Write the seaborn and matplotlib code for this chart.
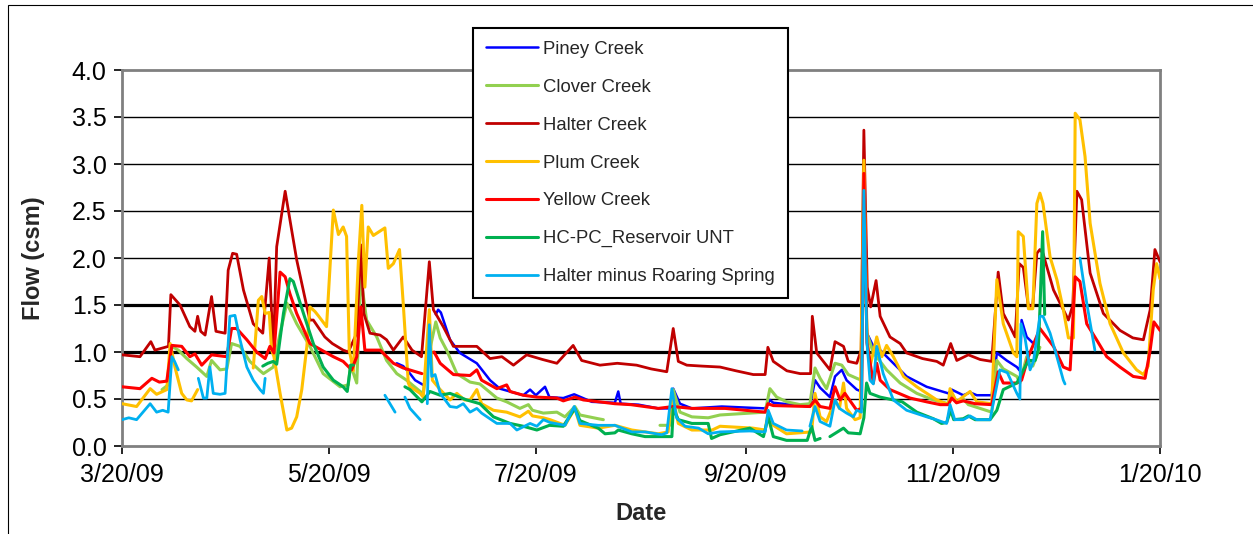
import numpy as np
import pandas as pd
import matplotlib
matplotlib.use("Agg")
import matplotlib.pyplot as plt
import seaborn as sns
from matplotlib.patches import Rectangle

# ---------------- data (days since 3/20/09, flow in csm); None = gap ----------------
start_date = "2009-03-20"
series_names = ["Piney Creek", "Clover Creek", "Halter Creek", "Plum Creek",
                "Yellow Creek", "HC-PC_Reservoir UNT", "Halter minus Roaring Spring"]
series_colors = ["#0000FF", "#92D050", "#C00000", "#FFC000", "#FF0000", "#00B050", "#00B0F0"]
x_tick_labels = ["3/20/09", "5/20/09", "7/20/09", "9/20/09", "11/20/09", "1/20/10"]
y_ticks = [0.0, 0.5, 1.0, 1.5, 2.0, 2.5, 3.0, 3.5, 4.0]
thick_grid = [1.0, 1.5]

piney = [(81.0,0.88),(82.9,0.85),(84.9,0.77),(86.4,0.70),(88.8,0.65), None,
 (92.5,1.40),(93.2,1.45),(94.0,1.42),(96.7,1.13),(99.6,0.99),(104.6,0.88),(108.5,0.70),(111.4,0.61),
 (118.3,0.54),(120.3,0.60),(122.0,0.54),(124.7,0.63),(126.0,0.52),(130.1,0.51),(133.3,0.55),(138.5,0.47),
 (145.3,0.46),(146.3,0.58),(147.0,0.45),(152.2,0.44),(158.1,0.40),(162.1,0.40),(162.5,0.61),(164.5,0.45),
 (168.0,0.40),(176.8,0.42),(189.6,0.40),(191.0,0.49),(192.0,0.46),(202.8,0.42),(204.3,0.70),(205.8,0.62),
 (208.7,0.52),(210.2,0.74),(212.2,0.81),(213.6,0.70),(216.6,0.60),(218.0,0.58),(218.7,2.50),(219.6,1.20),
 (221.5,1.06),(223.5,1.02),(227.4,0.88),(231.3,0.74),(237.2,0.63),(243.6,0.56),(244.6,0.60),(248.0,0.54),
 (250.0,0.57),(252.0,0.54),(256.4,0.54),(257.9,0.99),(260.8,0.91),(263.8,0.84),(264.7,0.80),(265.2,1.34),
 (266.7,1.16),(268.7,1.09)]

clover = [(11.8,0.60),(13.6,0.65),(14.7,1.06),(16.6,1.02),(19.1,0.93),(22.0,0.84),(25.0,0.74),(26.4,0.91),
 (28.9,0.81),(30.9,0.82),(32.3,1.09),(34.8,1.06),(37.7,0.90),(40.7,0.80),(41.7,0.77),(44.6,0.84),(46.6,1.20),
 (48.6,1.52),(51.5,1.30),(55.4,1.06),(59.3,0.77),(64.3,0.63),(66.7,0.65),(67.4,0.86),(69.2,0.67),(70.4,1.80),
 (72.1,1.34),(75.1,1.16),(78.0,0.91),(81.0,0.77),(83.9,0.70),(87.9,0.58),(88.8,0.56),(90.6,1.00),(92.5,1.32),
 (93.8,1.15),(95.7,1.02),(98.7,0.77),(102.6,0.68),(105.5,0.66),(110.5,0.51),(113.4,0.47),(117.3,0.40),
 (119.8,0.44),(121.0,0.38),(124.2,0.35),(128.2,0.36),(130.6,0.31),(133.5,0.42),(135.0,0.33),(140.4,0.29),
 (141.9,0.28), None,
 (158.6,0.22),(161.5,0.22),(162.5,0.60),(164.5,0.36),(168.0,0.31),(172.8,0.30),(176.3,0.33),(189.6,0.36),
 (191.0,0.61),(193.0,0.52),(196.0,0.47),(199.9,0.44),(202.8,0.45),(204.3,0.83),(205.8,0.72),(207.7,0.61),
 (210.2,0.88),(212.2,0.86),(214.1,0.76),(216.6,0.72),(218.0,0.70),(218.7,2.60),(219.6,1.20),(221.5,0.99),
 (223.5,0.90),(225.4,0.81),(229.4,0.67),(234.3,0.56),(239.2,0.49),(243.6,0.45),(244.6,0.56),(246.1,0.46),
 (248.0,0.50),(249.5,0.44),(256.4,0.36),(257.9,0.91),(259.8,0.82),(263.8,0.74),(264.7,0.67),(266.7,0.95),
 (268.5,0.85),(270.6,1.05)]

halter = [(0.0,0.97),(5.3,0.95),(8.5,1.11),(9.7,1.02),(13.7,1.06),(14.4,1.61),(17.1,1.50),(20.0,1.27),
 (21.5,1.22),(22.3,1.38),(23.2,1.22),(24.5,1.18),(26.4,1.59),(27.7,1.22),(30.4,1.20),(31.3,1.87),(32.6,2.05),
 (33.8,2.04),(35.8,1.66),(38.7,1.30),(41.5,1.20),(43.4,2.00),(44.6,0.99),(45.6,2.12),(48.1,2.71),(50.0,2.30),
 (51.5,1.98),(54.5,1.48),(55.4,1.34),(56.4,1.34),(59.8,1.16),(62.0,1.09),(65.2,1.02),(66.7,1.00),(69.2,1.20),
 (70.4,2.14),(71.3,1.41),(73.1,1.20),(76.1,1.18),(78.0,1.13),(80.0,1.02),(82.9,1.16),(85.5,1.02),(88.3,0.95),
 (90.6,1.96),(91.8,1.45),(94.7,1.27),(97.7,1.06),(101.0,1.06),(104.6,1.06),(108.5,0.93),(112.0,0.95),
 (115.4,0.86),(119.3,0.97),(124.0,0.92),(128.2,0.88),(133.0,1.07),(135.5,0.91),(140.9,0.86),(146.0,0.88),
 (151.7,0.86),(156.0,0.82),(160.6,0.79),(162.5,1.25),(164.0,0.90),(166.5,0.86),(171.0,0.85),(176.3,0.84),
 (181.0,0.80),(186.1,0.76),(189.6,0.76),(190.4,1.05),(192.0,0.90),(196.0,0.80),(199.9,0.77),(203.0,0.77),
 (203.5,1.38),(204.8,0.99),(208.7,0.81),(210.2,1.11),(212.7,1.06),(214.1,0.90),(216.6,0.88),(217.9,1.02),
 (218.7,3.36),(219.7,1.69),(220.7,1.48),(222.3,1.76),(223.5,1.38),(226.4,1.16),(229.4,1.09),(231.3,0.99),
 (236.0,0.93),(240.2,0.90),(242.1,0.86),(244.3,1.09),(246.1,0.91),(249.5,0.97),(253.0,0.92),(256.4,0.90),
 (258.3,1.85),(259.8,1.41),(261.8,1.27),(263.3,1.16),(264.5,1.94),(265.7,1.90),(267.2,1.48),(268.5,1.50),
 (269.7,2.05),(270.6,2.09),(271.5,2.05),(274.6,1.66),(277.5,1.45),(279.0,1.34),(280.3,1.50),(281.5,2.71),
 (282.9,2.62),(285.4,1.84),(289.3,1.41),(294.2,1.23),(298.0,1.15),(301.1,1.13),(303.1,1.45),(304.5,2.09),
 (306.0,1.96)]

plum = [(0.0,0.45),(4.3,0.42),(8.3,0.61),(10.2,0.55),(13.2,0.60),(14.2,1.09),(15.6,0.84),(17.6,0.56),
 (19.1,0.49),(20.5,0.48),(22.3,0.60), None,
 (38.7,0.83),(40.2,1.55),(41.2,1.59),(42.2,1.41),(43.4,1.42),(44.1,1.02),(44.8,0.95),(46.6,0.56),(48.6,0.17),
 (50.0,0.19),(51.5,0.31),(53.0,0.60),(54.5,1.06),(55.4,1.48),(56.9,1.43),(58.0,1.38),(60.3,1.27),(62.3,2.51),
 (63.8,2.25),(65.2,2.33),(66.2,2.23),(67.0,1.02),(68.2,0.80),(69.7,1.98),(70.7,2.56),(71.6,1.69),(72.6,2.33),
 (74.1,2.24),(77.5,2.32),(78.5,1.89),(80.0,1.94),(81.8,2.09),(82.9,1.52),(84.4,0.67),(84.9,0.63),(87.9,0.56),
 (88.8,0.52),(90.6,1.45),(91.5,0.70),(93.8,0.60),(96.7,0.49),(98.7,0.56),(101.0,0.49),(102.6,0.49),
 (104.6,0.60),(106.0,0.45),(109.5,0.38),(113.4,0.36),(117.3,0.31),(119.8,0.37),(121.0,0.32),(124.2,0.30),
 (126.2,0.28),(130.6,0.22),(133.5,0.40),(135.0,0.22),(140.4,0.19),(145.3,0.22),(150.3,0.17),(158.1,0.13),
 (161.0,0.15),(162.1,0.56),(164.0,0.24),(168.0,0.17),(174.0,0.17),(176.3,0.21),(186.0,0.19),(189.6,0.17),
 (190.5,0.36),(192.0,0.22),(195.9,0.13),(203.3,0.15),(204.3,0.56),(205.8,0.31),(207.7,0.26),(210.2,0.49),
 (211.5,0.40),(212.7,0.67),(213.6,0.40),(216.1,0.28),(217.6,0.30),(218.7,3.04),(219.6,1.20),(220.5,0.84),
 (222.5,1.16),(224.0,0.95),(225.4,1.07),(227.4,0.95),(230.4,0.74),(234.3,0.63),(240.2,0.49),(243.6,0.44),
 (244.1,0.61),(246.0,0.47),(250.0,0.58),(252.0,0.47),(256.4,0.45),(257.9,1.77),(259.8,1.30),(262.8,0.99),
 (263.8,0.95),(264.2,2.28),(265.7,2.23),(267.2,1.46),(268.5,1.46),(269.7,2.58),(270.6,2.69),(271.5,2.58),
 (273.6,2.01),(275.6,1.77),(277.5,1.45),(279.0,1.15),(280.5,1.15),(281.0,3.54),(282.4,3.47),(283.9,3.08),
 (285.4,2.37),(288.3,1.73),(291.3,1.30),(295.2,0.99),(299.1,0.81),(301.1,0.76),(302.5,0.85),(304.0,1.66),
 (305.0,1.94),(306.0,1.78)]

yellow = [(0.0,0.63),(5.3,0.61),(8.8,0.72),(11.0,0.68),(13.2,0.69),(14.7,1.07),(17.6,1.06),(20.0,0.95),
 (21.5,0.98),(23.5,0.86),(26.4,0.97),(30.9,0.95),(32.3,1.25),(33.8,1.25),(36.8,1.13),(39.7,1.00),(42.2,0.93),
 (43.6,1.06),(44.8,0.99),(46.6,1.85),(48.1,1.80),(49.5,1.62),(51.5,1.41),(55.4,1.09),(62.3,0.95),(65.2,0.90),
 (67.7,0.81),(69.2,0.95),(70.4,1.48),(71.6,1.02),(76.1,1.02),(77.5,0.97),(80.0,0.88),(82.9,0.83),(88.4,0.77),
 None,
 (92.0,1.00),(93.8,0.88),(97.7,0.76),(102.6,0.75),(104.6,0.81),(106.0,0.70),(110.5,0.61),(113.4,0.65),
 (114.4,0.58),(118.3,0.54),(122.3,0.52),(128.2,0.51),(130.1,0.48),(133.5,0.52),(136.0,0.49),(145.3,0.45),
 (150.0,0.44),(158.1,0.40),(162.5,0.42),(168.0,0.40),(177.8,0.40),(189.6,0.36),(190.4,0.45),(192.0,0.43),
 (202.8,0.42),(204.3,0.49),(205.8,0.42),(208.7,0.40),(210.2,0.63),(211.7,0.49),(213.1,0.56),(216.6,0.38),
 (218.0,0.40),(218.7,2.90),(219.6,1.10),(221.5,0.67),(222.5,0.88),(223.5,0.70),(226.4,0.60),(232.3,0.51),
 (237.2,0.47),(241.2,0.44),(243.6,0.44),(244.6,0.51),(246.0,0.46),(248.0,0.48),(251.5,0.45),(256.4,0.44),
 (258.3,0.79),(259.8,0.67),(263.8,0.67),(265.2,0.70),(267.2,0.95),(270.6,1.25),(274.6,1.06),(277.5,0.84),
 (279.5,0.81),(281.0,1.80),(282.4,1.75),(284.4,1.30),(287.3,1.13),(290.3,0.95),(294.2,0.84),(298.1,0.74),
 (301.6,0.72),(303.1,1.02),(304.2,1.32),(306.0,1.23)]

hcpc = [(41.5,0.85),(43.0,0.88),(44.6,0.90),(45.6,0.87),(47.6,1.41),(49.5,1.78),(50.5,1.75),(53.5,1.41),
 (56.4,1.09),(59.3,0.84),(62.3,0.70),(65.2,0.63),(66.4,0.58),(67.4,0.86),(68.2,0.86), None,
 (83.4,0.63),(84.9,0.60),(88.4,0.47),(90.8,0.58),(93.8,0.54),(96.7,0.56),(101.6,0.49),(105.5,0.45),
 (109.5,0.31),(114.4,0.24),(118.3,0.21),(122.3,0.17),(126.0,0.22),(130.1,0.21),(130.6,0.24),(133.5,0.40),
 (135.0,0.27),(140.4,0.19),(142.4,0.13),(145.3,0.14),(146.3,0.17),(150.3,0.13),(154.2,0.10),(162.1,0.10),
 (162.5,0.40),(164.0,0.28),(168.0,0.24),(172.8,0.24),(173.8,0.08),(176.3,0.12),(185.1,0.19),(189.1,0.10),
 (190.5,0.31),(192.0,0.10),(195.9,0.06),(202.0,0.06),(203.3,0.21),(204.3,0.06),(205.8,0.08), None,
 (208.7,0.10),(212.7,0.19),(214.1,0.14),(217.6,0.13),(218.7,0.30),(219.5,0.67),(220.5,0.56),(223.5,0.52),
 (227.4,0.49),(230.0,0.47),(234.3,0.36),(239.2,0.29),(241.6,0.24),(243.1,0.25),(244.3,0.38),(245.2,0.28),
 (248.0,0.29),(249.5,0.32),(251.5,0.28),(255.9,0.28),(257.9,0.38),(259.8,0.60),(263.8,0.67),(265.2,0.77),
 (267.2,0.91),(269.2,0.91),(270.1,1.02),(270.6,1.45),(271.4,2.28),(272.0,1.40)]

halter_minus = [(0.0,0.28),(2.0,0.30),(4.3,0.28),(8.3,0.45),(10.2,0.36),(12.0,0.38),(13.6,0.36),(14.7,0.95),
 (15.5,0.90),(16.6,0.81), None,
 (22.5,0.72),(24.0,0.51),(25.0,0.51),(25.9,0.84),(26.9,0.56),(28.9,0.55),(30.4,0.56),(31.8,1.38),(33.3,1.39),
 (34.8,1.13),(36.8,0.84),(38.7,0.70),(40.7,0.60),(41.7,0.56),(42.2,0.72), None,
 (77.5,0.54),(80.5,0.36), None,
 (83.4,0.52),(84.9,0.40),(87.9,0.28), None,
 (90.0,0.45),(90.6,1.29),(91.3,0.74),(92.3,0.76),(93.8,0.56),(96.7,0.42),(98.7,0.41),(100.6,0.45),
 (102.6,0.36),(104.6,0.40),(106.0,0.35),(110.5,0.24),(114.4,0.24),(116.4,0.17),(120.3,0.24),(122.3,0.21),
 (124.2,0.28),(126.2,0.25),(130.6,0.22),(133.3,0.42),(135.0,0.24),(140.4,0.22),(145.3,0.22),(150.3,0.15),
 (154.2,0.15),(159.1,0.12),(160.6,0.14),(162.1,0.61),(163.5,0.30),(166.0,0.21),(170.0,0.19),(172.8,0.13),
 (176.3,0.15),(185.0,0.16),(189.6,0.15),(190.5,0.38),(192.0,0.24),(195.9,0.17),(200.5,0.16), None,
 (202.8,0.21),(204.3,0.42),(205.8,0.26),(208.7,0.21),(210.2,0.49),(211.5,0.40),(213.6,0.35),(215.6,0.31),
 (216.6,0.38),(218.0,0.36),(218.7,2.72),(219.6,1.10),(220.5,0.70),(221.5,0.66),(222.5,1.06),(224.4,0.77),
 (227.4,0.49),(231.3,0.38),(237.2,0.31),(240.0,0.28),(243.1,0.24),(244.1,0.44),(245.5,0.28),(248.0,0.28),
 (250.0,0.32),(252.0,0.28),(255.9,0.28),(258.8,0.81),(261.0,0.78),(263.8,0.56),(264.7,0.50),(265.0,1.30),
 (266.2,1.15),(267.7,0.81),(268.7,0.90),(270.6,1.38),(271.5,1.38),(273.6,1.20),(275.6,0.95),(277.5,0.70),
 (278.0,0.66), None,
 (282.4,2.00),(284.4,1.52),(286.8,1.02)]

series_data = [piney, clover, halter, plum, yellow, hcpc, halter_minus]
line_widths = [1.8, 2.2, 2.0, 2.2, 2.2, 2.2, 2.0]

# ---------------- build long-form table ----------------
rows = []
seg = 0
t0 = pd.Timestamp(start_date)
for name, pts in zip(series_names, series_data):
    seg += 1
    for p in pts:
        if p is None:
            seg += 1
            continue
        rows.append({"date": t0 + pd.to_timedelta(p[0], unit="D"), "flow": p[1],
                     "series": name, "segment": seg})
df = pd.DataFrame(rows)

# ---------------- plot ----------------
sns.set_style("white")
plt.rcParams["font.family"] = ["Liberation Sans", "DejaVu Sans"]

W, H = 1253, 534
fig = plt.figure(figsize=(W / 100, H / 100), dpi=100)
ax = fig.add_axes([122 / W, 1 - 446 / H, (1160 - 122) / W, (446 - 70) / H])

sns.lineplot(data=df, x="date", y="flow", hue="series", hue_order=series_names,
             palette=series_colors, units="segment", estimator=None, sort=False,
             linewidth=2.0, ax=ax, zorder=3)

color_lw = {c: lw for c, lw in zip(series_colors, line_widths)}
for ln in ax.get_lines():
    c = matplotlib.colors.to_hex(ln.get_color()).upper()
    if c in color_lw:
        ln.set_linewidth(color_lw[c])

# grid lines
for yv in y_ticks[1:-1]:
    ax.axhline(yv, color="black", lw=2.3 if yv in thick_grid else 1.0, zorder=1)

ax.set_ylim(y_ticks[0], y_ticks[-1])
ax.set_yticks(y_ticks)
ax.set_yticklabels([f"{v:.1f}" for v in y_ticks])
tick_dates = pd.to_datetime(x_tick_labels, format="%m/%d/%y")
ax.set_xlim(tick_dates[0], tick_dates[-1])
ax.set_xticks(tick_dates)
ax.set_xticklabels(x_tick_labels)

ax.tick_params(axis="both", labelsize=18, colors="black")
ax.tick_params(axis="x", direction="out", length=6, width=1.2, pad=6, bottom=True)
ax.tick_params(axis="y", direction="out", length=6, width=1.2, pad=5, left=True)

for s in ax.spines.values():
    s.set_visible(True)
    s.set_color("#808080")
    s.set_linewidth(2.0)

ax.set_xlabel("Date", fontsize=17, fontweight="bold")
ax.set_ylabel("Flow (csm)", fontsize=17, fontweight="bold")
ax.xaxis.set_label_coords(0.5, -(502 - 446) / 376)
ax.yaxis.set_label_coords((45 - 122) / 1038, 0.5)

# legend
old = ax.get_legend()
handles = list(old.legend_handles)
labels = [t.get_text() for t in old.get_texts()]
old.remove()
leg = ax.legend(handles, labels, loc="upper left",
                bbox_to_anchor=(473 / W, 1 - 28 / H), bbox_transform=fig.transFigure,
                fontsize=13.3, frameon=True, fancybox=False, framealpha=1,
                edgecolor="black", handlelength=2.8, handletextpad=0.3,
                labelspacing=1.13, borderpad=0.7, borderaxespad=0)
leg.get_frame().set_linewidth(1.5)
for h, lw in zip(leg.legend_handles, line_widths):
    h.set_linewidth(lw)
leg.set_zorder(10)

# outer chart border
fig.patches.append(Rectangle((8 / W, -0.1), 1.2, 1.1 - 5 / H, transform=fig.transFigure,
                             fill=False, edgecolor="black", lw=0.8))

fig.savefig("out.png", dpi=100)
